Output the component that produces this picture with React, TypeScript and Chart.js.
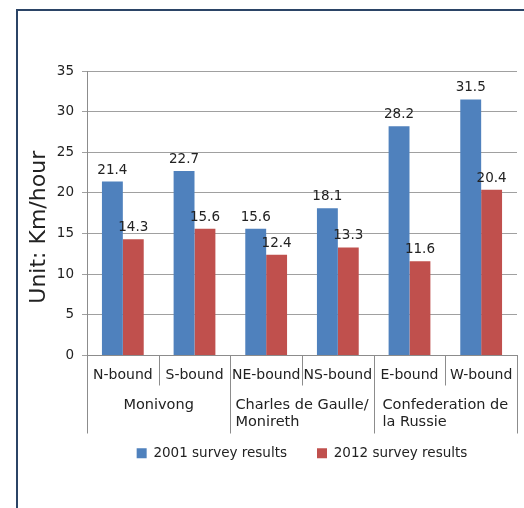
import React, { useEffect, useRef } from 'react';
import { Chart, registerables } from 'chart.js';

Chart.register(...registerables);

const subLabels = ['N-bound', 'S-bound', 'NE-bound', 'NS-bound', 'E-bound', 'W-bound'];
const groupLabels = [['Monivong'], ['Charles de Gaulle/', 'Monireth'], ['Confederation de', 'la Russie']];
const groupSizes = [2, 2, 2];
const series2001 = [21.4, 22.7, 15.6, 18.1, 28.2, 31.5];
const series2012 = [14.3, 15.6, 12.4, 13.3, 11.6, 20.4];
const seriesNames = ['2001 survey results', '2012 survey results'];
const yMin = 0;
const yMax = 35;
const yStep = 5;
const yTitle = 'Unit: Km/hour';

const FONT = "'DejaVu Sans', sans-serif";
const TEXT = '#222222';
const LINE = '#8c8c8c';

const multiLevelPlugin = {
  id: 'multiLevel',
  afterDraw(chart: any) {
    const ctx = chart.ctx;
    const x = chart.scales.x;
    const area = chart.chartArea;
    const step = x.getPixelForValue(1) - x.getPixelForValue(0);
    const bounds = new Set<number>([0]);
    let acc = 0;
    groupSizes.forEach((s) => {
      acc += s;
      bounds.add(acc);
    });
    ctx.save();
    ctx.strokeStyle = LINE;
    ctx.lineWidth = 1;
    for (let i = 0; i <= subLabels.length; i++) {
      const px = Math.round(x.getPixelForValue(i) - step / 2) + 0.5;
      const len = bounds.has(i) ? 78 : 30;
      ctx.beginPath();
      ctx.moveTo(px, area.bottom);
      ctx.lineTo(px, area.bottom + len);
      ctx.stroke();
    }
    ctx.fillStyle = TEXT;
    ctx.font = `14.5px ${FONT}`;
    ctx.textAlign = 'left';
    ctx.textBaseline = 'middle';
    let start = 0;
    groupSizes.forEach((s, g) => {
      const c = (x.getPixelForValue(start) + x.getPixelForValue(start + s - 1)) / 2;
      const lines = groupLabels[g];
      const maxW = Math.max(...lines.map((l) => ctx.measureText(l).width));
      const left = c - maxW / 2;
      lines.forEach((l, k) => {
        ctx.fillText(l, left, area.bottom + 50 + k * 17);
      });
      start += s;
    });
    // y-axis title
    ctx.save();
    ctx.font = `22px ${FONT}`;
    ctx.textAlign = 'center';
    ctx.textBaseline = 'middle';
    ctx.translate(39, (area.top + area.bottom) / 2 + 14);
    ctx.rotate(-Math.PI / 2);
    ctx.fillText(yTitle, 0, 0);
    ctx.restore();
    ctx.restore();
  },
};

const dataLabelPlugin = {
  id: 'dataLabels',
  afterDatasetsDraw(chart: any) {
    const ctx = chart.ctx;
    ctx.save();
    ctx.fillStyle = TEXT;
    ctx.font = `13.5px ${FONT}`;
    ctx.textAlign = 'center';
    ctx.textBaseline = 'alphabetic';
    chart.data.datasets.forEach((ds: any, i: number) => {
      const meta = chart.getDatasetMeta(i);
      meta.data.forEach((el: any, j: number) => {
        ctx.fillText(Number(ds.data[j]).toFixed(1), el.x, el.y - 8);
      });
    });
    ctx.restore();
  },
};

export default function App() {
  const ref = useRef<HTMLCanvasElement | null>(null);

  useEffect(() => {
    if (!ref.current) return;
    const chart = new Chart(ref.current, {
      type: 'bar',
      data: {
        labels: subLabels,
        datasets: [
          { label: seriesNames[0], data: series2001, backgroundColor: '#4f81bd' },
          { label: seriesNames[1], data: series2012, backgroundColor: '#c0504d' },
        ],
      },
      options: {
        responsive: false,
        animation: false,
        categoryPercentage: 0.583,
        barPercentage: 1,
        layout: { padding: { left: 18, right: 7, top: 71, bottom: 38 } },
        plugins: {
          legend: {
            position: 'bottom',
            fullSize: false,
            labels: {
              boxWidth: 10,
              boxHeight: 10,
              padding: 30,
              color: TEXT,
              font: { family: FONT, size: 13.5 },
            },
          },
          tooltip: { enabled: false },
        },
        scales: {
          x: {
            grid: { display: false },
            border: { display: true, color: LINE },
            ticks: { color: TEXT, font: { family: FONT, size: 14 }, padding: 3, maxRotation: 0, autoSkip: false },
            afterFit: (scale: any) => {
              scale.height = 61;
            },
          },
          y: {
            min: yMin,
            max: yMax,
            ticks: { stepSize: yStep, color: TEXT, font: { family: FONT, size: 13.5 }, padding: 8 },
            grid: { color: '#a0a0a0', tickLength: 5 },
            border: { display: true, color: LINE },
            title: { display: false },
            afterFit: (scale: any) => {
              scale.width = 69;
            },
          },
        },
      },
      plugins: [multiLevelPlugin, dataLabelPlugin],
    });
    return () => chart.destroy();
  }, []);

  return (
    <div style={{ position: 'fixed', left: 0, top: 0, width: 524, height: 508, overflow: 'hidden', background: '#fff' }}>
      <div
        style={{
          position: 'absolute',
          left: 16,
          top: 9,
          width: 700,
          height: 700,
          border: '2px solid #2b4466',
        }}
      />
      <canvas ref={ref} width={524} height={508} style={{ position: 'absolute', left: 0, top: 0 }} />
    </div>
  );
}
